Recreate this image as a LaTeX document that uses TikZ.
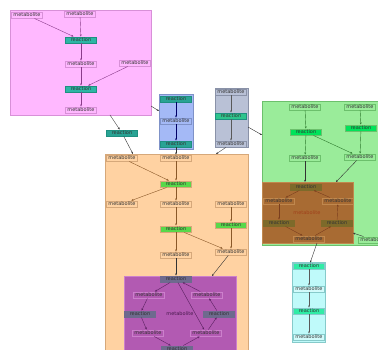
\documentclass[tikz,border=0pt]{standalone}
\usepackage{fontspec}
\setmainfont{DejaVu Sans}
\usetikzlibrary{arrows.meta}
\begin{document}
\begin{tikzpicture}[x=1pt,y=-1pt,
  nd/.style={draw, line width=0.35pt, minimum width=31pt, minimum height=6.6pt, inner sep=0pt,
     font=\fontsize{5}{5.5}\selectfont, text=black!80},
  met/.style={nd},
  rct/.style={nd},
  plain/.style={inner sep=0pt, font=\fontsize{5}{5.5}\selectfont},
  arr/.style={-{Stealth[length=2.2pt,width=1.8pt]}, line width=0.4pt},
  clu/.style={line width=0.4pt}
]
\definecolor{pinkF}{HTML}{FFB8FF}\definecolor{pinkD}{HTML}{D890D8}\definecolor{pinkE}{HTML}{8A3C8A}
\definecolor{tealR}{HTML}{2EB5A5}\definecolor{tealD}{HTML}{1E9080}
\definecolor{blueF}{HTML}{A4B9F6}\definecolor{blueD}{HTML}{7F92C8}
\definecolor{grayF}{HTML}{B9C1D6}\definecolor{grayD}{HTML}{8A92A8}\definecolor{grayR}{HTML}{2EC48C}
\definecolor{greenF}{HTML}{9AEC9A}\definecolor{greenD}{HTML}{6CC06C}\definecolor{greenR}{HTML}{00E35A}\definecolor{greenE}{HTML}{2E7A2E}
\definecolor{brownF}{HTML}{A86B33}\definecolor{brownD}{HTML}{C0884E}\definecolor{brownR}{HTML}{7D6A2A}\definecolor{brownT}{HTML}{A0401A}\definecolor{brownE}{HTML}{7A3E1E}
\definecolor{cyanF}{HTML}{BFFAFA}\definecolor{cyanD}{HTML}{86CACA}\definecolor{cyanR}{HTML}{30ECA6}
\definecolor{orangeF}{HTML}{FFD2A2}\definecolor{orangeD}{HTML}{D6A87A}\definecolor{orangeR}{HTML}{58D84A}\definecolor{orangeE}{HTML}{8A5828}
\definecolor{purpF}{HTML}{B25AB2}\definecolor{purpD}{HTML}{CC80CC}\definecolor{purpR}{HTML}{6E6A8E}\definecolor{purpE}{HTML}{5A2060}
\useasboundingbox (0,0) rectangle (378,350);
\fill[white] (0,0) rectangle (378,350);
% clusters
\draw[clu, fill=pinkF, draw=pinkD] (10,10) rectangle (151,115);
\draw[clu, fill=blueF, draw=blueD] (159,94) rectangle (193,149);
\draw[clu, fill=grayF, draw=grayD] (215,88) rectangle (248,147);
\draw[clu, fill=greenF, draw=greenD] (262,101) rectangle (392,245);
\draw[clu, fill=brownF, draw=brownD] (262,182) rectangle (353,243);
\draw[clu, fill=cyanF, draw=cyanD] (292,262) rectangle (325,342);
\draw[clu, fill=orangeF, draw=orangeD] (105,154) rectangle (248,362);
\draw[clu, fill=purpF, draw=purpD] (124,276) rectangle (236,362);

% pink
\begin{scope}[every node/.append style={draw=pinkD, fill=pinkF}]
\node[met] (pm1) at (27,15) {metabolite};
\node[met] (pm2) at (80,14) {metabolite};
\node[met] (pm3) at (81,64) {metabolite};
\node[met] (pm4) at (135,63) {metabolite};
\node[met] (pm5) at (81,110) {metabolite};
\end{scope}
\node[rct, fill=tealR, draw=tealD] (pr1) at (81,40) {reaction};
\node[rct, fill=tealR, draw=tealD] (pr2) at (81,89) {reaction};
\begin{scope}[draw=pinkE]
\draw[arr] (pm1) -- (pr1);
\draw[arr] (pm2) -- (pr1);
\draw[arr] (pr1) -- (pm3);
\draw[arr] (pm3) -- (pr2);
\draw[arr] (pm4) -- (pr2);
\draw[arr] (pr2) -- (pm5);
\end{scope}

% standalone reaction
\node[rct, fill=tealR!90!black, draw=tealD] (tr) at (122,133) {reaction};

% blue
\node[rct, fill=tealR!90!black, draw=tealD] (br1) at (176,99) {reaction};
\node[met, fill=blueF, draw=blueD] (bm1) at (176,121) {metabolite};
\node[rct, fill=tealR!90!black, draw=tealD] (br2) at (176,144) {reaction};
\draw[arr, draw=blue!40!black] (br1) -- (bm1);
\draw[arr, draw=blue!40!black] (bm1) -- (br2);

% gray
\node[met, fill=grayF, draw=grayD] (gm1) at (231,92) {metabolite};
\node[rct, fill=grayR, draw=tealD] (gr1) at (231,116) {reaction};
\node[met, fill=grayF, draw=grayD] (gm2) at (231,144) {metabolite};
\draw[arr, draw=black!65] (gm1) -- (gr1);
\draw[arr, draw=black!65] (gr1) -- (gm2);

% green
\begin{scope}[every node/.append style={draw=greenD, fill=greenF}]
\node[met] (em1) at (305,107) {metabolite};
\node[met] (em2) at (360,107) {metabolite};
\node[met] (em3) at (305,158) {metabolite};
\node[met] (em4) at (360,157) {metabolite};
\node[met] (xm) at (374,240) {metabolite};
\end{scope}
\node[rct, fill=greenR, draw=greenD] (er1) at (306,132) {reaction};
\node[rct, fill=greenR, draw=greenD] (er2) at (361,128) {reaction};
\begin{scope}[draw=greenE]
\draw[arr] (em1) -- (er1);
\draw[arr] (er1) -- (em3);
\draw[arr] (er1) -- (em4);
\draw[arr] (em2) -- (er2);
\draw[arr] (er2) -- (em4);
\end{scope}

% brown
\begin{scope}[every node/.append style={text=brownT}]
\node[rct, fill=brownR, draw=brownR] (wr1) at (306,187) {reaction};
\node[met, fill=brownF, draw=brownD] (wm1) at (279,201) {metabolite};
\node[met, fill=brownF, draw=brownD] (wm2) at (338,201) {metabolite};
\node[plain] (wm0) at (307,213) {metabolite};
\node[rct, fill=brownR, draw=brownR] (wr2) at (279,223) {reaction};
\node[rct, fill=brownR, draw=brownR] (wr3) at (337,223) {reaction};
\node[met, fill=brownF, draw=brownD] (wm3) at (309,239) {metabolite};
\end{scope}
\begin{scope}[draw=brownE]
\draw[arr] (wr1) -- (wm1);
\draw[arr] (wm1) -- (wr2);
\draw[arr] (wr2) -- (wm3);
\draw[arr] (wm3) -- (wr3);
\draw[arr] (wr3) -- (wm2);
\draw[arr] (wm2) -- (wr1);
\end{scope}

% cyan
\node[rct, fill=cyanR, draw=cyanD] (cr1) at (309,266) {reaction};
\node[met, fill=cyanF!70!white, draw=cyanD] (cm1) at (309,289) {metabolite};
\node[rct, fill=cyanR, draw=cyanD] (cr2) at (309,311) {reaction};
\node[met, fill=cyanF!70!white, draw=cyanD] (cm2) at (309,337) {metabolite};
\draw[arr, draw=black!65] (cr1) -- (cm1);
\draw[arr, draw=black!65] (cm1) -- (cr2);
\draw[arr, draw=black!65] (cr2) -- (cm2);

% orange
\begin{scope}[every node/.append style={draw=orangeD, fill=orangeF}]
\node[met] (om1) at (122,158) {metabolite};
\node[met] (om2) at (176,158) {metabolite};
\node[met] (om3) at (122,204) {metabolite};
\node[met] (om4) at (176,204) {metabolite};
\node[met] (om5) at (231,204) {metabolite};
\node[met] (om6) at (176,255) {metabolite};
\node[met] (om7) at (231,252) {metabolite};
\end{scope}
\node[rct, fill=orangeR, draw=orangeD] (or1) at (176,184) {reaction};
\node[rct, fill=orangeR, draw=orangeD] (or2) at (176,229) {reaction};
\node[rct, fill=orangeR, draw=orangeD] (or3) at (231,225) {reaction};
\begin{scope}[draw=orangeE]
\draw[arr] (om1) -- (or1);
\draw[arr] (om2) -- (or1);
\draw[arr] (or1) -- (om3);
\draw[arr] (or1) -- (om4);
\draw[arr] (om4) -- (or2);
\draw[arr] (or2) -- (om6);
\draw[arr] (or2) -- (om7);
\draw[arr] (om5) -- (or3);
\draw[arr] (or3) -- (om7);
\end{scope}

% purple
\begin{scope}[every node/.append style={text=purpE!80!black}]
\node[rct, fill=purpR, draw=purpR] (ur1) at (176,279) {reaction};
\node[met, fill=purpF, draw=purpD] (um1) at (149,295) {metabolite};
\node[met, fill=purpF, draw=purpD] (um2) at (207,295) {metabolite};
\node[rct, fill=purpR, draw=purpR] (ur2) at (140,314) {reaction};
\node[plain] (um0) at (180,314) {metabolite};
\node[rct, fill=purpR, draw=purpR] (ur3) at (219,314) {reaction};
\node[met, fill=purpF, draw=purpD] (um3) at (148,333) {metabolite};
\node[met, fill=purpF, draw=purpD] (um4) at (206,333) {metabolite};
\node[rct, fill=purpR, draw=purpR] (ur4) at (177,349) {reaction};
\end{scope}
\begin{scope}[draw=purpE]
\draw[arr] (ur1) -- (um1);
\draw[arr] (um1) -- (ur2);
\draw[arr] (ur2) -- (um3);
\draw[arr] (um3) -- (ur4);
\draw[arr] (ur4) -- (um4);
\draw[arr] (um4) -- (ur3);
\draw[arr] (ur3) -- (um2);
\draw[arr] (um2) -- (ur1);
\draw[arr] (ur1) -- (um4);
\end{scope}

% compound edges
\coordinate (c1) at (110,115);
\coordinate (c2) at (133,154);
\coordinate (c3) at (151,106);
\coordinate (c4) at (159,111);
\coordinate (c5) at (216,154);
\coordinate (c6) at (248,127);
\coordinate (c7) at (262,135);
\coordinate (c8) at (305,182);
\coordinate (c9) at (336,182);
\coordinate (c10) at (353,233);
\coordinate (c11) at (317,243);
\coordinate (c13) at (212,276);
\begin{scope}[draw=black!80]
\draw[arr] (c1) -- (tr);
\draw[arr] (tr) -- (c2);
\draw[arr] (c3) -- (c4);
\draw[arr] (br2) -- (om2);
\draw[arr] (gm2) -- (c5);
\draw[arr] (c6) -- (c7);
\draw[arr] (em3) -- (c8);
\draw[arr] (em4) -- (c9);
\draw[arr] (xm) -- (c10);
\draw[arr] (c11) -- (cr1);
\draw[arr] (om6) -- (ur1);
\draw[arr] (om7) -- (c13);
\end{scope}
\end{tikzpicture}
\end{document}
